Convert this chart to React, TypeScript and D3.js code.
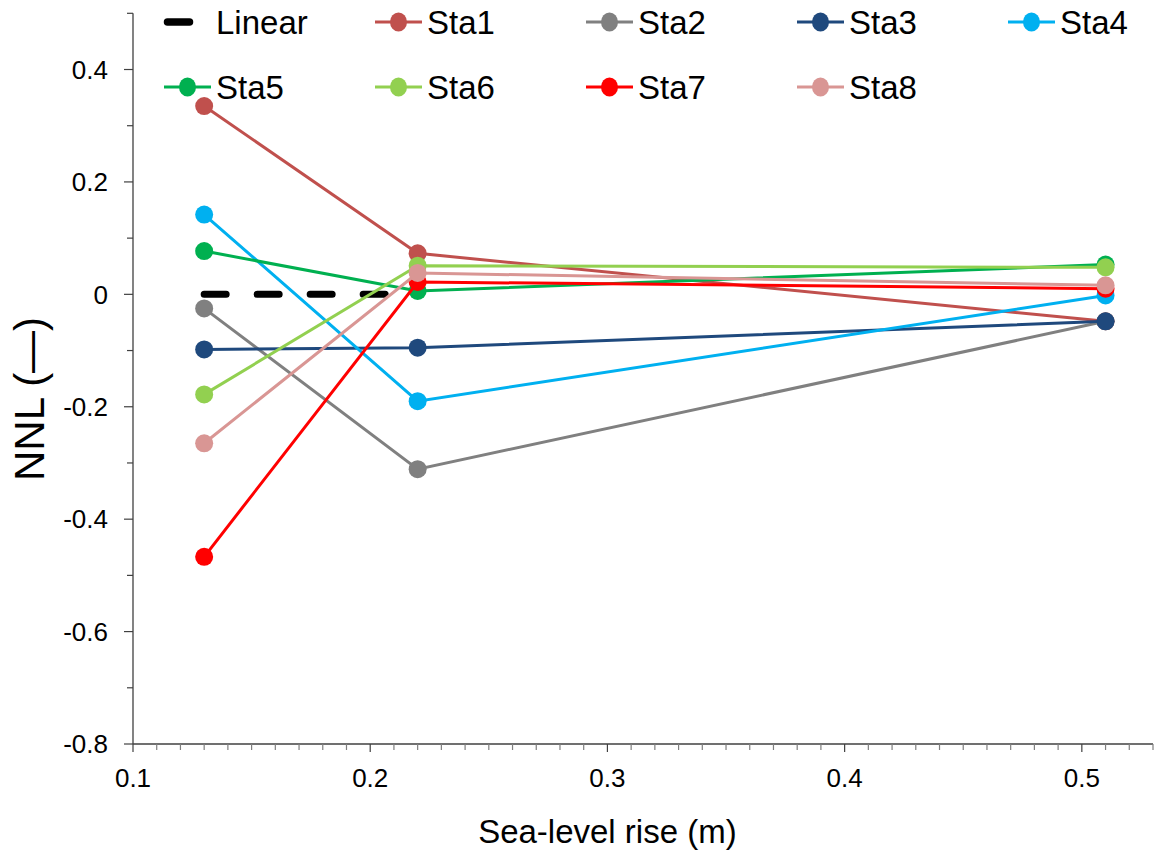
import React from "react";
import * as d3 from "d3";

const xValues = [0.13, 0.22, 0.51];
const linearX = [0.13, 0.22];
const linearY = [0, 0];
const seriesNames = ["Sta1", "Sta2", "Sta3", "Sta4", "Sta5", "Sta6", "Sta7", "Sta8"];
const sta1 = [0.335, 0.073, -0.048];
const sta2 = [-0.025, -0.311, -0.048];
const sta3 = [-0.098, -0.095, -0.048];
const sta4 = [0.142, -0.19, -0.002];
const sta5 = [0.077, 0.006, 0.053];
const sta6 = [-0.178, 0.051, 0.048];
const sta7 = [-0.467, 0.022, 0.01];
const sta8 = [-0.265, 0.038, 0.016];
const seriesValues = [sta1, sta2, sta3, sta4, sta5, sta6, sta7, sta8];
const seriesColors = ["#C0504D", "#808080", "#1F497D", "#00B0F0", "#00B050", "#92D050", "#FF0000", "#D99694"];
const xTickLabels = ["0.1", "0.2", "0.3", "0.4", "0.5"];
const yTickLabels = ["-0.8", "-0.6", "-0.4", "-0.2", "0", "0.2", "0.4"];

const FONT = "'Liberation Sans', Arial, sans-serif";

export default function App() {
  const W = 1159, H = 852;
  const left = 133, right = 1153, top = 13.3, bottom = 744;
  const x = d3.scaleLinear().domain([0.1, 0.53]).range([left, right]);
  const y = d3.scaleLinear().domain([-0.8, 0.5]).range([bottom, top]);
  const line = d3.line<[number, number]>().x(d => x(d[0])).y(d => y(d[1]));

  const xMinor = d3.range(10, 54).map(v => v / 100);
  const yMinor = d3.range(-8, 6).map(v => v / 10);

  const legendItems = [{ name: "Linear", color: "#000", dashed: true }, ...seriesNames.map((n, i) => ({ name: n, color: seriesColors[i], dashed: false }))];
  const colX = (c: number) => 164 + c * 211;
  const rowY = (r: number) => [22, 87][r];

  return (
    <svg width={W} height={H} style={{ position: "absolute", left: 0, top: 0, background: "#fff" }} fontFamily={FONT}>
      <rect width={W} height={H} fill="#fff" />
      <line x1={left} x2={left} y1={top} y2={bottom} stroke="#404040" strokeWidth={1.3} />
      <line x1={left} x2={right} y1={bottom} y2={bottom} stroke="#404040" strokeWidth={1.3} />
      {yMinor.map((v, i) => {
        const major = Math.abs(Math.round(v * 10)) % 2 === 0;
        return <line key={"ym" + i} x1={left - (major ? 9 : 6)} x2={left} y1={y(v)} y2={y(v)} stroke="#404040" strokeWidth={1.2} />;
      })}
      {xMinor.map((v, i) => {
        const major = Math.round(v * 100) % 10 === 0;
        return <line key={"xm" + i} x1={x(v)} x2={x(v)} y1={bottom} y2={bottom + (major ? 8 : 6)} stroke={major ? "#404040" : "#7f7f7f"} strokeWidth={1.2} />;
      })}
      {yTickLabels.map(v => (
        <text key={"yl" + v} x={108} y={y(+v) + 9.3} textAnchor="end" fontSize={26} fill="#000">{v}</text>
      ))}
      {xTickLabels.map(v => (
        <text key={"xl" + v} x={x(+v)} y={787} textAnchor="middle" fontSize={26} fill="#000">{v}</text>
      ))}
      <text x={x(0.3)} y={843} textAnchor="middle" fontSize={33} fill="#000">Sea-level rise (m)</text>
      <text transform="translate(44,481) rotate(-90)" textAnchor="start" fontSize={42} fill="#000">NNL (—)</text>

      <path d={line(linearX.map((v, i) => [v, linearY[i]]) as any) || ""} fill="none" stroke="#000" strokeWidth={7} strokeDasharray="22,31" strokeLinecap="round" />
      {seriesValues.map((vals, si) => {
        const pts = xValues.map((v, i) => [v, vals[i]] as [number, number]);
        return (
          <g key={seriesNames[si]}>
            <path d={line(pts) || ""} fill="none" stroke={seriesColors[si]} strokeWidth={3} />
            {pts.map((p, i) => (
              <circle key={i} cx={x(p[0])} cy={y(p[1])} r={9} fill={seriesColors[si]} />
            ))}
          </g>
        );
      })}

      {legendItems.map((it, i) => {
        const r = i < 5 ? 0 : 1;
        const c = i < 5 ? i : i - 5;
        const x0 = colX(c), yy = rowY(r);
        return (
          <g key={"lg" + it.name}>
            {it.dashed ? (
              <line x1={x0 + 3.5} x2={x0 + 47} y1={yy} y2={yy} stroke="#000" strokeWidth={7.5} strokeDasharray="22,31" strokeLinecap="round" />
            ) : (
              <>
                <line x1={x0} x2={x0 + 47} y1={yy} y2={yy} stroke={it.color} strokeWidth={3} />
                <ellipse cx={x0 + 23.5} cy={yy} rx={8.5} ry={9.5} fill={it.color} />
              </>
            )}
            <text x={x0 + 52} y={yy + 11.8} fontSize={33} fill="#000">{it.name}</text>
          </g>
        );
      })}
    </svg>
  );
}
